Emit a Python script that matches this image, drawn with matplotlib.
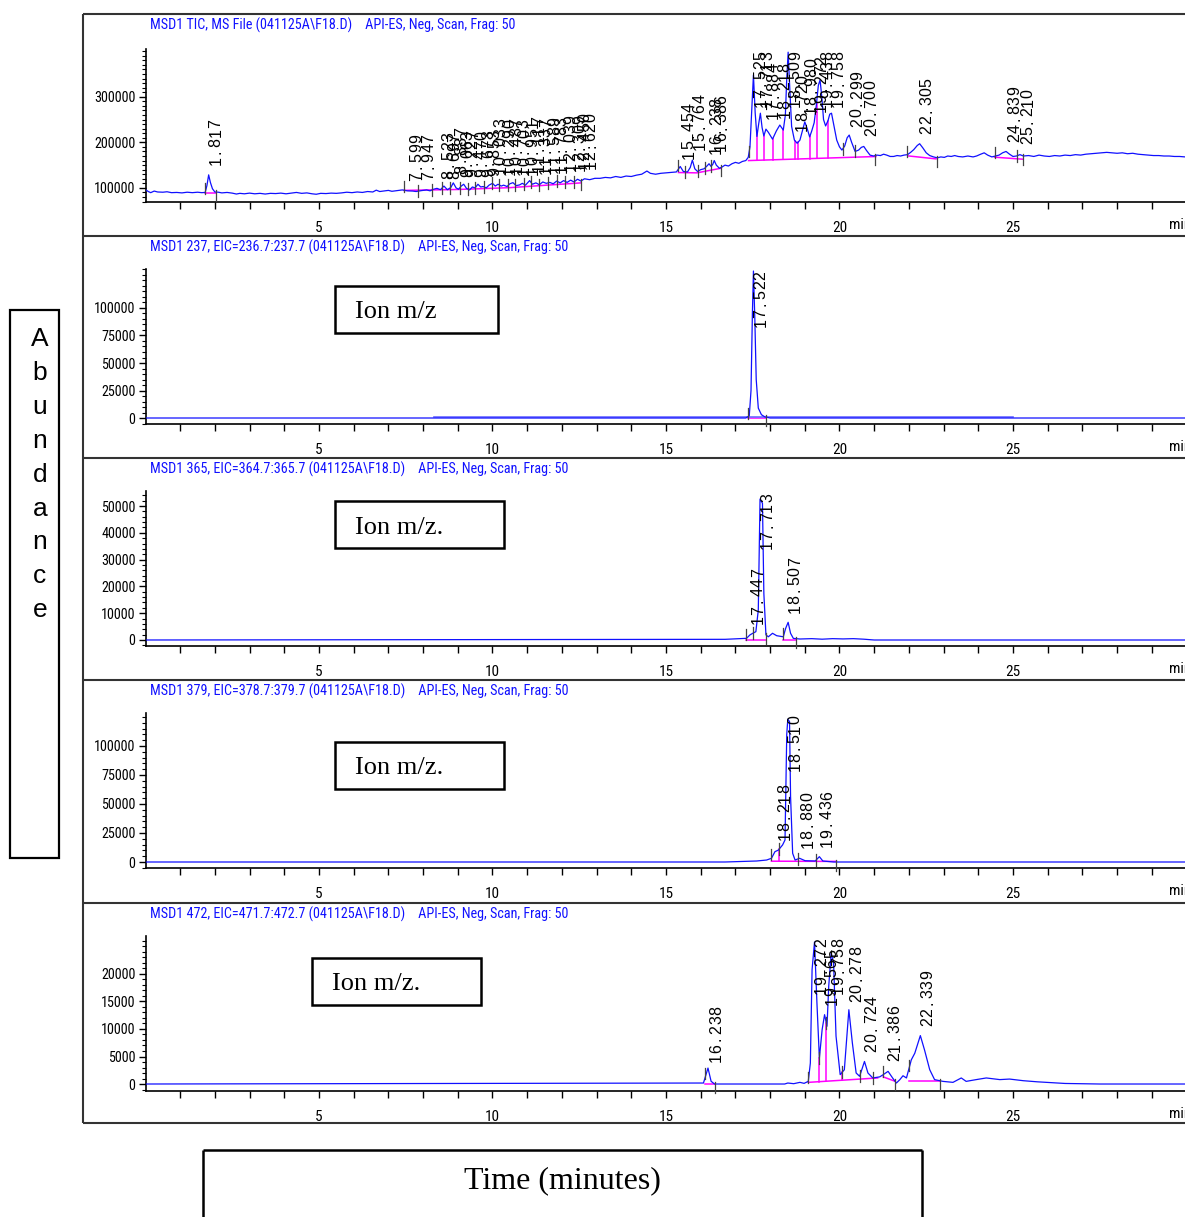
import numpy as np
import matplotlib
matplotlib.use('Agg')
import matplotlib.pyplot as plt
from matplotlib import font_manager as fm
from matplotlib.ticker import MultipleLocator, FixedLocator
from matplotlib.lines import Line2D
from matplotlib.patches import Rectangle
from matplotlib.transforms import IdentityTransform

W, H = 1185, 1217

names = {f.name for f in fm.fontManager.ttflist}
NARROW = None
for c in ['Liberation Sans Narrow', 'Arial Narrow', 'Roboto Condensed', 'Archivo Narrow']:
    if c in names:
        NARROW = c
        break
if NARROW:
    plt.rcParams['font.family'] = [NARROW, 'DejaVu Sans']
    SC = 1.0
else:
    plt.rcParams['font.family'] = ['Liberation Sans', 'DejaVu Sans']
    SC = 0.83

# ---------------- data ----------------
# Panel 1: TIC  (time in min, abundance)
tic_t = [0.00, 0.08, 0.15, 0.25, 0.35, 0.50, 0.62, 0.75, 0.90, 1.05, 1.20, 1.35, 1.50, 1.62, 1.72, 1.77,
         1.82, 1.87, 1.93, 2.00, 2.10, 2.20, 2.35, 2.50, 2.62, 2.72, 2.85, 3.00, 3.15, 3.30, 3.45, 3.60,
         3.75, 3.90, 4.05, 4.20, 4.35, 4.50, 4.65, 4.80, 4.92, 5.05, 5.20, 5.35, 5.50, 5.65, 5.80, 5.95,
         6.10, 6.25, 6.40, 6.55, 6.65, 6.75, 6.90, 7.00, 7.10, 7.25, 7.40, 7.55, 7.70, 7.80, 7.95, 8.10,
         8.20, 8.30, 8.40, 8.50, 8.60, 8.70, 8.80, 8.87, 8.95, 9.02, 9.10, 9.17, 9.25, 9.34, 9.42, 9.50,
         9.58, 9.66, 9.73, 9.82, 9.90, 10.00, 10.08, 10.16, 10.25, 10.32, 10.42, 10.50, 10.59, 10.68,
         10.78, 10.86, 10.95, 11.07, 11.15, 11.25, 11.35, 11.45, 11.55, 11.65, 11.75, 11.85, 11.95,
         12.05, 12.15, 12.25, 12.35, 12.45, 12.55, 12.65, 12.80, 12.95, 13.10, 13.25, 13.40, 13.55,
         13.70, 13.85, 14.00, 14.15, 14.30, 14.45, 14.55, 14.70, 14.85, 15.00, 15.15, 15.30, 15.41,
         15.50, 15.62, 15.70, 15.76, 15.83, 15.91, 16.00, 16.10, 16.18, 16.24, 16.30, 16.35, 16.39,
         16.45, 16.54, 16.62, 16.70, 16.80, 16.90, 17.00, 17.10, 17.20, 17.30, 17.37, 17.42, 17.47,
         17.52, 17.57, 17.62, 17.67, 17.72, 17.77, 17.82, 17.88, 17.95, 18.07, 18.18, 18.28, 18.38,
         18.44, 18.48, 18.52, 18.56, 18.62, 18.70, 18.78, 18.86, 18.93, 19.00, 19.07, 19.14, 19.20,
         19.27, 19.33, 19.39, 19.44, 19.49, 19.54, 19.60, 19.67, 19.72, 19.77, 19.83, 19.92, 20.00,
         20.07, 20.15, 20.22, 20.28, 20.35, 20.45, 20.55, 20.63, 20.70, 20.78, 20.88, 20.98, 21.08,
         21.18, 21.27, 21.36, 21.46, 21.56, 21.66, 21.76, 21.86, 21.96, 22.05, 22.14, 22.24, 22.31,
         22.40, 22.50, 22.60, 22.71, 22.82, 22.92, 23.02, 23.12, 23.22, 23.32, 23.42, 23.55, 23.70,
         23.85, 23.95, 24.07, 24.17, 24.27, 24.39, 24.50, 24.60, 24.70, 24.80, 24.90, 25.00, 25.10,
         25.20, 25.30, 25.45, 25.60, 25.75, 25.90, 26.05, 26.20, 26.35, 26.50, 26.65, 26.80, 26.95,
         27.10, 27.25, 27.40, 27.55, 27.70, 27.85, 28.00, 28.15, 28.30, 28.45, 28.60, 28.75, 28.90,
         29.05, 29.20, 29.35, 29.50, 29.65, 29.80, 29.96]
tic_k = [96, 92, 89.5, 93, 91, 90.5, 91.5, 89.5, 90, 89, 90.5, 89.5, 90.5, 89.5, 90, 105,
         128.6, 112, 98, 91, 90.5, 89, 90, 88.5, 86.5, 88, 87, 88.5, 87, 88, 86.5, 88,
         87.5, 88.5, 87, 88.5, 90, 88, 89, 87, 86, 88, 87.5, 88.5, 88, 89, 90.5, 89.5,
         91, 90, 92, 91, 95, 92, 93.5, 94.5, 92.5, 94, 95.5, 93.5, 93, 92, 94, 95.5,
         93.5, 97, 99, 96, 104, 96, 101, 111, 100, 97, 104, 108, 99, 95.5, 102, 100,
         108, 102, 103, 100, 106, 110, 104, 108, 104, 106, 103, 109, 111.5, 105,
         106.5, 110, 106, 116, 108, 111, 107, 113, 110, 112, 109, 115, 111,
         116, 112, 117, 113, 119, 115, 120, 118, 121, 121, 123, 122, 125,
         123, 126, 125, 128, 130, 137, 132, 130, 132, 133, 134, 135, 147,
         136, 135, 145, 161, 142, 136, 140, 142, 148, 153, 147, 152, 160,
         150, 143, 146, 150, 148, 153, 156, 154, 158, 160, 167, 190, 270,
         348, 265, 213, 240, 264, 232, 214, 229, 222, 207, 225, 238, 227,
         260, 340, 398, 330, 235, 205, 198, 205, 225, 245, 230, 212, 225,
         243, 280, 325, 337, 300, 250, 236, 248, 262, 264, 240, 205, 190,
         183, 192, 210, 216, 200, 180, 183, 189, 191, 182, 172, 170, 172,
         171, 174, 172, 169, 169, 171, 170, 172, 173, 178, 184, 193, 197,
         188, 177, 171, 168, 166, 168, 167, 170, 169, 171, 169, 168, 170,
         168, 170, 174, 177, 172, 168, 170, 172, 177, 180, 174, 169, 170,
         173, 170, 171, 169, 172, 170, 169, 171, 170, 172, 171, 173, 172,
         174, 175, 176, 177, 178, 177, 176, 177, 175, 176, 174, 173, 172,
         171, 171, 170, 170, 169, 169, 168]
tic_v = [k * 1000 for k in tic_k]
tic_labels = ["1.817", "7.599", "7.947", "8.523", "8.697", "8.887", "9.063", "9.227", "9.470",
              "9.673", "9.853", "10.033", "10.290", "10.487", "10.703", "10.951", "11.117",
              "11.337", "11.589", "11.783", "12.039", "12.309", "12.450", "12.620", "15.454",
              "15.764", "16.238", "16.386", "17.525", "17.713", "17.884", "18.218", "18.509",
              "18.720", "18.980", "19.272", "19.438", "19.758", "20.299", "20.700", "22.305",
              "24.839", "25.210"]
tic_base = [[(1.72, 89500), (2.04, 89500)],
            [(7.45, 94500), (9.0, 96500), (10.5, 100500), (12.55, 111000)],
            [(15.36, 133700), (15.89, 133000), (16.59, 143200)],
            [(17.38, 160000), (21.05, 168900)],
            [(21.97, 170300), (22.78, 163700)],
            [(24.47, 167400), (25.28, 163000)]]
tic_drops = [17.63, 17.82, 18.07, 18.38, 18.72, 18.81, 19.15, 19.34, 19.66]
tic_starts = [1.72, 7.45, 15.36, 17.38, 21.95, 24.47]
tic_mids = [7.85, 8.25, 8.55, 8.78, 9.05, 9.3, 9.5, 9.75, 10.0, 10.2, 10.45, 10.65, 10.9, 11.1,
            11.35, 11.6, 11.85, 12.1, 12.35, 15.56, 15.92, 16.13, 16.31, 20.1, 20.45, 25.12]
tic_ends = [2.04, 12.55, 16.59, 21.02, 22.8, 25.28]

# Panel 2: EIC 237
p2_t = [0, 17.30, 17.40, 17.45, 17.49, 17.52, 17.56, 17.60, 17.66, 17.75, 17.85, 18.00, 29.96]
p2_v = [0, 0, 2000, 25000, 95000, 133600, 90000, 35000, 9000, 3000, 1000, 0, 0]
p2_overlay = [(8.3, 700), (25.0, 700)]
p2_labels = ["17.522"]
p2_base = [[(17.35, 0), (17.88, 0)]]

# Panel 3: EIC 365
p3_t = [0, 16.70, 17.32, 17.42, 17.50, 17.59, 17.66, 17.71, 17.78, 17.82, 17.88, 17.95, 18.07,
        18.19, 18.38, 18.45, 18.52, 18.59, 18.67, 18.86, 19.20, 19.50, 19.80, 20.10, 20.40,
        20.70, 21.00, 29.96]
p3_v = [0, 250, 620, 1900, 2500, 3100, 11200, 52600, 51000, 17400, 1900, 1200, 2500,
        1600, 1200, 4400, 6600, 2500, 600, 370, 500, 300, 500, 400, 500, 300, 0, 0]
p3_labels = ["17.447", "17.713", "18.507"]
p3_base = [[(17.32, 0), (17.88, 0)], [(18.36, 0), (18.75, 0)]]

# Panel 4: EIC 379
p4_t = [0, 16.70, 17.61, 17.90, 18.04, 18.14, 18.24, 18.36, 18.43, 18.48, 18.51, 18.56, 18.59,
        18.65, 18.72, 18.85, 19.01, 19.30, 19.42, 19.52, 19.83, 29.96]
p4_v = [0, 0, 860, 1700, 3200, 8900, 10300, 14700, 19000, 110000, 123000, 121000, 56300,
        7500, 1700, 3200, 1100, 860, 4600, 860, 0, 0]
p4_labels = ["18.218", "18.510", "18.880", "19.436"]
p4_base = [[(18.04, 700), (19.91, 500)]]

# Panel 5: EIC 472
p5_t = [0, 16.08, 16.21, 16.30, 16.40, 18.42, 18.51, 18.68, 18.86, 18.98, 19.10, 19.16, 19.21,
        19.28, 19.35, 19.42, 19.50, 19.57, 19.64, 19.69, 19.76, 19.83, 19.90, 20.02, 20.14,
        20.27, 20.37, 20.48, 20.58, 20.72, 20.82, 20.96, 21.16, 21.26, 21.40, 21.53, 21.64,
        21.74, 21.83, 21.93, 22.07, 22.17, 22.33, 22.45, 22.60, 22.74, 22.98, 23.27, 23.51,
        23.65, 23.94, 24.23, 24.62, 24.90, 25.30, 25.70, 26.50, 27.50, 29.96]
p5_v = [0, 180, 2900, 490, 0, 0, 180, 60, 300, 120, 480, 3800, 20800,
        25800, 14700, 4700, 9900, 12600, 10500, 17800, 23800, 22000, 8700, 1700, 2600,
        13500, 7500, 2000, 1400, 4100, 2000, 1100, 1300, 1700, 2300, 1100, 180,
        800, 1500, 1100, 4400, 5600, 8800, 6200, 2600, 800, 480, 300, 1100,
        480, 800, 1100, 800, 900, 600, 400, 100, 0, 0]
p5_labels = ["16.238", "19.272", "19.565", "19.758", "20.278", "20.724", "21.386", "22.339"]
p5_base = [[(16.13, 0), (16.40, 0)], [(19.10, 300), (21.10, 1100)],
           [(21.26, 1300), (21.60, 500)], [(22.00, 500), (22.90, 500)]]

titles = ["MSD1 TIC, MS File (041125A\\F18.D)    API-ES, Neg, Scan, Frag: 50",
          "MSD1 237, EIC=236.7:237.7 (041125A\\F18.D)    API-ES, Neg, Scan, Frag: 50",
          "MSD1 365, EIC=364.7:365.7 (041125A\\F18.D)    API-ES, Neg, Scan, Frag: 50",
          "MSD1 379, EIC=378.7:379.7 (041125A\\F18.D)    API-ES, Neg, Scan, Frag: 50",
          "MSD1 472, EIC=471.7:472.7 (041125A\\F18.D)    API-ES, Neg, Scan, Frag: 50"]
x_major = [5, 10, 15, 20, 25]
box_texts = [None, "Ion m/z", "Ion m/z.", "Ion m/z.", "Ion m/z."]
ylabel_letters = list("Abundance")
xlabel_text = "Time (minutes)"

# ---------------- layout ----------------
BLUE = '#1010ff'
LIGHTBLUE = '#6a6aff'
MAG = '#ff00ff'
GRAY = '#444444'
PEAKFONT = ['Liberation Sans', 'DejaVu Sans']
PITCH = 9.4

panels = [
    dict(t=tic_t, v=tic_v, labels=tic_labels, base=tic_base, drops=tic_drops,
         starts=tic_starts, mids=tic_mids, ends=tic_ends, overlay=None,
         ylim=(69000, 405000), yt=[100000, 200000, 300000], ym=10000, px=(49, 202)),
    dict(t=p2_t, v=p2_v, labels=p2_labels, base=p2_base, drops=[],
         starts=[17.35], mids=[], ends=[17.88], overlay=p2_overlay,
         ylim=(-5450, 135450), yt=[0, 25000, 50000, 75000, 100000], ym=5000, px=(269, 424)),
    dict(t=p3_t, v=p3_v, labels=p3_labels, base=p3_base, drops=[],
         starts=[17.32, 18.36], mids=[17.50], ends=[17.88, 18.75], overlay=None,
         ylim=(-2240, 55600), yt=[0, 10000, 20000, 30000, 40000, 50000], ym=2000, px=(491, 646)),
    dict(t=p4_t, v=p4_v, labels=p4_labels, base=p4_base, drops=[18.26],
         starts=[18.04], mids=[18.26, 18.80, 19.33], ends=[19.91], overlay=None,
         ylim=(-5170, 128400), yt=[0, 25000, 50000, 75000, 100000], ym=5000, px=(713, 868)),
    dict(t=p5_t, v=p5_v, labels=p5_labels, base=p5_base, drops=[19.42, 19.62, 20.08],
         starts=[16.13, 19.10, 21.26, 22.00], mids=[19.42, 19.62, 20.08, 20.58, 20.96],
         ends=[16.40, 21.60, 22.90], overlay=None,
         ylim=(-1270, 26900), yt=[0, 5000, 10000, 15000, 20000], ym=1000, px=(936, 1091)),
]
frame_tops = [14, 236, 458, 680, 903]
boxes = [None, (335, 286, 498, 333, 355), (335, 501, 504, 548, 355),
         (335, 742, 504, 789, 355), (312, 958, 481, 1005, 332)]

fig = plt.figure(figsize=(W / 100, H / 100), dpi=100)
fig.patch.set_facecolor('white')


def fx(p):
    return p / W


def fy(p):
    return 1 - p / H


def fline(x0, y0, x1, y1, lw=1.5, color='#333333'):
    fig.add_artist(Line2D([fx(x0), fx(x1)], [fy(y0), fy(y1)], lw=lw, color=color,
                          transform=fig.transFigure, solid_capstyle='butt'))


# panel frames
fline(83, 14, 83, 1123, lw=1.5)
for yy in frame_tops + [1123]:
    fline(83, yy, W, yy, lw=1.5)

XL = (0.0144, 29.957)
YT_FS = 10.2 * SC
XT_FS = 11.0 * SC
for i, P in enumerate(panels):
    top, bot = P['px']
    ax = fig.add_axes([fx(146), fy(bot), (W - 146) / W, (bot - top) / H])
    ax.set_xlim(*XL)
    ax.set_ylim(*P['ylim'])
    ax.patch.set_alpha(0)
    for s in ['top', 'right']:
        ax.spines[s].set_visible(False)
    for s in ['left', 'bottom']:
        ax.spines[s].set_linewidth(1.2)
    ax.xaxis.set_major_locator(FixedLocator(x_major))
    ax.xaxis.set_minor_locator(MultipleLocator(1))
    ax.yaxis.set_major_locator(FixedLocator(P['yt']))
    ax.yaxis.set_minor_locator(MultipleLocator(P['ym']))
    ax.tick_params(axis='x', which='both', direction='out', length=5, width=1,
                   labelsize=XT_FS, pad=8.5)
    ax.tick_params(axis='y', which='major', direction='out', length=5, width=1,
                   labelsize=YT_FS, pad=2.5)
    ax.tick_params(axis='y', which='minor', direction='out', length=3, width=0.8)
    ax.set_xticklabels([str(v) for v in x_major])
    ax.set_yticklabels([str(v) for v in P['yt']])

    t = np.array(P['t'], float)
    v = np.array(P['v'], float)
    ppx = (bot - top) / (P['ylim'][1] - P['ylim'][0])  # pixels per unit

    # baselines
    for seg in P['base']:
        st = [a for a, b in seg]
        sv = [b for a, b in seg]
        ax.plot(st, sv, color=MAG, lw=1.1, zorder=2)
    # drop lines
    for d in P['drops']:
        bv = 0
        for seg in P['base']:
            st = [a for a, b in seg]
            sv = [b for a, b in seg]
            if st[0] <= d <= st[-1]:
                bv = np.interp(d, st, sv)
        ax.plot([d, d], [bv, np.interp(d, t, v)], color=MAG, lw=1.1, zorder=2)
    # overlay
    if P['overlay'] is not None:
        ax.plot([a for a, b in P['overlay']], [b for a, b in P['overlay']],
                color=LIGHTBLUE, lw=1.2, zorder=2.5)
    # trace
    ax.plot(t, v, color=BLUE, lw=0.9, zorder=3)
    # integration marks
    u = 1.0 / ppx
    for s in P['starts']:
        tv = np.interp(s, t, v)
        ax.plot([s, s], [tv - 2 * u, tv + 9 * u], color=GRAY, lw=0.9, zorder=4, clip_on=False)
    for s in P['mids']:
        tv = np.interp(s, t, v)
        ax.plot([s, s], [tv - 6 * u, tv + 6 * u], color=GRAY, lw=0.9, zorder=4, clip_on=False)
    for s in P['ends']:
        tv = np.interp(s, t, v)
        ax.plot([s, s], [tv - 9 * u, tv + 2 * u], color=GRAY, lw=0.9, zorder=4, clip_on=False)

    # peak labels: characters on a fixed pitch, reading upward, kept inside the plot top
    atop = H - top
    for lab in P['labels']:
        rt = float(lab)
        apex = np.interp(rt, t, v)
        xd, yd = ax.transData.transform((rt, apex))
        L = len(lab) * PITCH
        y0 = yd + 10
        if y0 + L > atop - 2:
            y0 = atop - 2 - L
        xb = xd + 12
        for k, ch in enumerate(lab):
            fig.text(xb, y0 + (k + 0.5) * PITCH, ch, transform=IdentityTransform(),
                     rotation=90, rotation_mode='anchor', ha='center', va='baseline',
                     fontsize=11.5, family=PEAKFONT, color='black', zorder=5)

    # "min"
    fig.text(fx(1169), fy(bot + 23), 'min', ha='left', va='center', fontsize=XT_FS)

    # title
    fig.text(fx(150), fy(frame_tops[i] + 11), titles[i], color=BLUE, ha='left', va='center',
             fontsize=10.2 * SC)

    # ion boxes
    if boxes[i] is not None:
        x0, y0, x1, y1, tx = boxes[i]
        fig.add_artist(Rectangle((fx(x0), fy(y1)), (x1 - x0) / W, (y1 - y0) / H, fill=False,
                                 lw=1.8, edgecolor='black', transform=fig.transFigure))
        fig.text(fx(tx), fy((y0 + y1) / 2 + 3), box_texts[i], ha='left', va='center',
                 fontsize=19, family=['Liberation Serif', 'DejaVu Serif'])

# y label box
fig.add_artist(Rectangle((fx(10), fy(858)), 49 / W, 548 / H, fill=False, lw=1.6,
                         edgecolor='black', transform=fig.transFigure))
for k, ch in enumerate(ylabel_letters):
    fig.text(fx(40), fy(339 + 33.9 * k), ch, ha='center', va='center', fontsize=19,
             family=['Liberation Sans', 'DejaVu Sans'])

# x label box (bottom edge outside the figure)
fline(203, 1150, 922, 1150, lw=1.8, color='black')
fline(203, 1150, 203, H, lw=1.8, color='black')
fline(922, 1150, 922, H, lw=1.8, color='black')
fig.text(fx(562), fy(1181), xlabel_text, ha='center', va='center', fontsize=23,
         family=['Liberation Serif', 'DejaVu Serif'])

fig.savefig('out.png', dpi=100, facecolor='white')
